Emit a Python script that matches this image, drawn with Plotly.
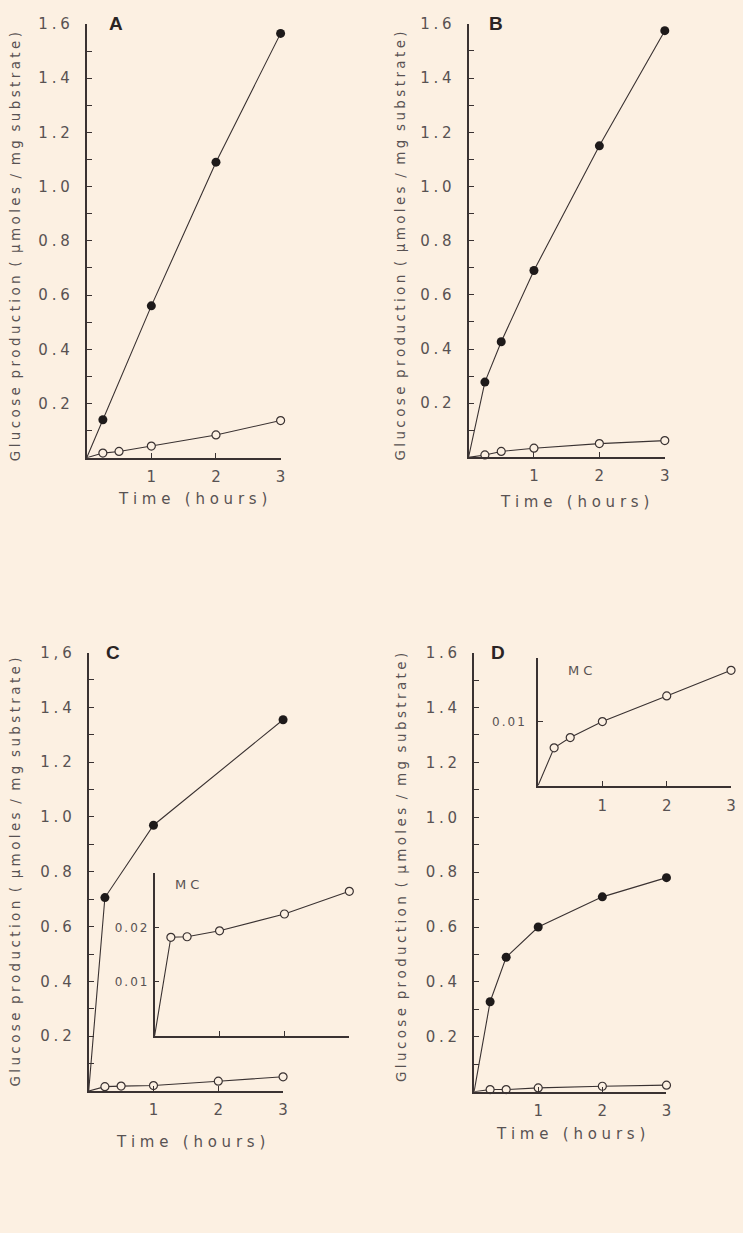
import plotly.graph_objects as go

# ---------------- data ----------------
time_A_fill = [0, 0.25, 1, 2, 3]
glc_A_fill = [0, 0.14, 0.56, 1.09, 1.565]
time_A_open = [0, 0.25, 0.5, 1, 2, 3]
glc_A_open = [0, 0.017, 0.023, 0.043, 0.084, 0.137]

time_B = [0, 0.25, 0.5, 1, 2, 3]
glc_B_fill = [0, 0.278, 0.427, 0.69, 1.15, 1.575]
glc_B_open = [0, 0.009, 0.022, 0.034, 0.051, 0.062]

time_C_fill = [0, 0.25, 1, 3]
glc_C_fill = [0, 0.706, 0.97, 1.355]
time_C_open = [0, 0.25, 0.5, 1, 2, 3]
glc_C_open = [0, 0.016, 0.018, 0.02, 0.036, 0.052]
time_C_inset = [0, 0.25, 0.5, 1, 2, 3]
glc_C_inset = [0, 0.0182, 0.0183, 0.0194, 0.0225, 0.0267]

time_D = [0, 0.25, 0.5, 1, 2, 3]
glc_D_fill = [0, 0.328, 0.49, 0.60, 0.71, 0.78]
glc_D_open = [0, 0.008, 0.008, 0.014, 0.02, 0.024]
glc_D_inset = [0, 0.0059, 0.0075, 0.010, 0.014, 0.018]

main_yticks = [0.1, 0.2, 0.3, 0.4, 0.5, 0.6, 0.7, 0.8, 0.9, 1.0, 1.1, 1.2, 1.3, 1.4, 1.5, 1.6]
main_ylabels = ["", "0.2", "", "0.4", "", "0.6", "", "0.8", "", "1.0", "", "1.2", "", "1.4", "", "1.6"]
main_ylabels_C = main_ylabels[:-1] + ["1,6"]
main_xticks = [1, 2, 3]
main_xlabels = ["1", "2", "3"]
insetC_yticks = [0.01, 0.02, 0.03]
insetC_ylabels = ["0.01", "0.02", ""]
insetD_yticks = [0.01, 0.02]
insetD_ylabels = ["0.01", ""]

y_title = "Glucose production ( μmoles / mg substrate)"
x_title = "Time (hours)"

# ---------------- style ----------------
W, H = 743, 1233
BG = "#fcf0e2"
AX = "#3a3232"
TXT = "#585252"
FONT = "DejaVu Sans"
NB = "\u00a0"
G4 = "\u2005"


def spaced(s, gap=G4, wordgap=NB * 3):
    words = s.split(" ")
    return wordgap.join(gap.join(list(w)) for w in words)


def px_x(a, b):
    return [a / W, b / W]


def px_y(top, bottom):
    return [1 - bottom / H, 1 - top / H]


fig = go.Figure()


def add_series(x, y, xa, ya, filled):
    fig.add_trace(go.Scatter(x=x, y=y, xaxis=xa, yaxis=ya, mode="lines",
                             line=dict(color=AX, width=1.1), hoverinfo="skip",
                             showlegend=False, cliponaxis=False))
    if filled:
        mk = dict(symbol="circle", size=9, color="#1e1a1a", line=dict(width=0))
    else:
        mk = dict(symbol="circle", size=8, color=BG, line=dict(color=AX, width=1.2))
    fig.add_trace(go.Scatter(x=x[1:], y=y[1:], xaxis=xa, yaxis=ya, mode="markers",
                             marker=mk, showlegend=False, cliponaxis=False))


add_series(time_A_fill, glc_A_fill, "x", "y", True)
add_series(time_A_open, glc_A_open, "x", "y", False)
add_series(time_B, glc_B_fill, "x2", "y2", True)
add_series(time_B, glc_B_open, "x2", "y2", False)
add_series(time_C_fill, glc_C_fill, "x3", "y3", True)
add_series(time_C_open, glc_C_open, "x3", "y3", False)
add_series(time_D, glc_D_fill, "x4", "y4", True)
add_series(time_D, glc_D_open, "x4", "y4", False)
add_series(time_C_inset, glc_C_inset, "x5", "y5", False)
add_series(time_D, glc_D_inset, "x6", "y6", False)


def xaxis(domain, anchor, labels, size=15, standoff=4, lw=2):
    return dict(domain=domain, anchor=anchor, range=[0, 3], tickvals=main_xticks,
                ticktext=labels, ticks="inside", ticklen=5, tickwidth=1.3,
                tickcolor=AX, showline=True, linecolor=AX, linewidth=lw,
                showgrid=False, zeroline=False, fixedrange=True,
                tickfont=dict(family=FONT, size=size, color=TXT),
                ticklabelstandoff=standoff)


def yaxis(domain, anchor, rng, vals, labels, size=15, standoff=12, lw=2, gap=G4):
    return dict(domain=domain, anchor=anchor, range=rng, tickvals=vals,
                ticktext=[spaced(t, gap=gap) for t in labels], ticks="inside", ticklen=5,
                tickwidth=1.3, tickcolor=AX, showline=True, linecolor=AX,
                linewidth=lw, showgrid=False, zeroline=False, fixedrange=True,
                tickfont=dict(family=FONT, size=size, color=TXT),
                ticklabelstandoff=standoff)


fig.update_layout(
    width=W, height=H, margin=dict(l=0, r=0, t=0, b=0),
    paper_bgcolor=BG, plot_bgcolor="rgba(0,0,0,0)", showlegend=False,
    xaxis=xaxis(px_x(87.3, 282.5), "y", main_xlabels),
    yaxis=yaxis(px_y(15, 452), "x", [0, 1.6], main_yticks, main_ylabels),
    xaxis2=xaxis(px_x(471.7, 669.3), "y2", main_xlabels),
    yaxis2=yaxis(px_y(15, 451.7), "x2", [0, 1.6], main_yticks, main_ylabels),
    xaxis3=xaxis(px_x(89.3, 285), "y3", main_xlabels),
    yaxis3=yaxis(px_y(648.3, 1090), "x3", [0, 1.6], main_yticks, main_ylabels_C),
    xaxis4=xaxis(px_x(477.3, 671), "y4", main_xlabels),
    yaxis4=yaxis(px_y(648.3, 1090.7), "x4", [0, 1.6], main_yticks, main_ylabels),
    xaxis5=xaxis(px_x(155.7, 351.7), "y5", ["", "", ""], lw=1.6),
    yaxis5=yaxis(px_y(870.8, 1034.3), "x5", [0, 0.03], insetC_yticks, insetC_ylabels,
                 size=12, standoff=3, lw=1.6, gap="\u2006"),
    xaxis6=xaxis(px_x(541.7, 736), "y6", main_xlabels, size=15, standoff=6, lw=1.6),
    yaxis6=yaxis(px_y(653.3, 782.3), "x6", [0, 0.02], insetD_yticks, insetD_ylabels,
                 size=12, standoff=9, lw=1.6, gap="\u2006"),
)

ann = []


def text(s, xpx, ypx, size, angle=0, color=TXT, family=FONT):
    ann.append(dict(text=s, x=xpx / W, y=1 - ypx / H, xref="paper", yref="paper",
                    showarrow=False, xanchor="center", yanchor="middle",
                    textangle=angle, font=dict(family=family, size=size, color=color)))


ytitle = spaced(y_title, gap="\u2005", wordgap=NB * 2)
xtitle = spaced(x_title, gap=NB, wordgap=NB * 3)

for (xp, yp) in [(15, 239), (403, 239), (15, 869), (403, 865)]:
    text(ytitle, xp, yp, 13.5, angle=-90)
for (xp, yp) in [(194.3, 494), (578.3, 496.7), (191.7, 1141.7), (574.5, 1133)]:
    text(xtitle, xp, yp, 15)
for (s, xp, yp) in [("A", 117, 15), ("B", 499.5, 15), ("C", 113.5, 648), ("D", 501.5, 648)]:
    text("<b>" + s + "</b>", xp, yp, 19, color="#2a2424", family="Liberation Sans")
text(spaced("MC", gap=NB), 188, 882, 13)
text(spaced("MC", gap=NB), 584, 666, 13)

fig.update_layout(annotations=ann)
fig.write_html("out.html")
